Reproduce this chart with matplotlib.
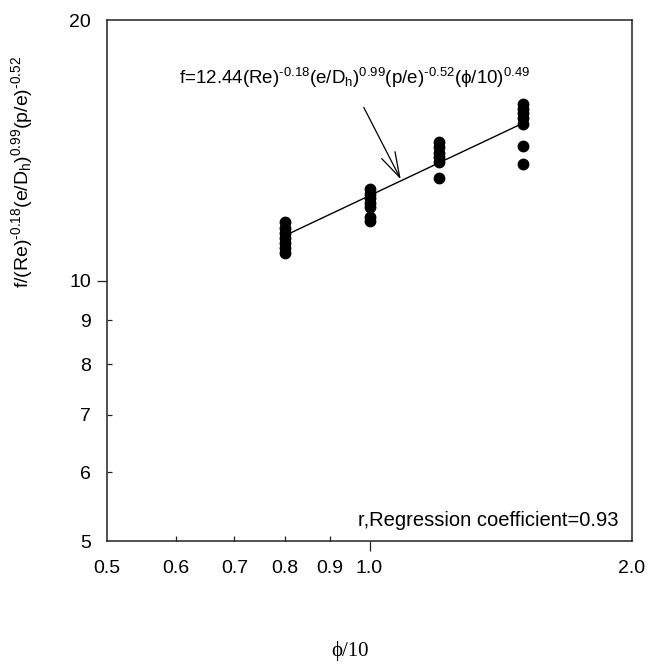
import matplotlib
matplotlib.use("Agg")
import matplotlib.pyplot as plt
from matplotlib.ticker import FixedLocator, FixedFormatter
import matplotlib.lines as mlines

# ---- data ----
x_groups = [0.8, 1.0, 1.2, 1.5]
y_groups = [
    [11.67, 11.5, 11.35, 11.2, 11.05, 10.9, 10.75],
    [12.75, 12.6, 12.45, 12.3, 12.15, 11.85, 11.7],
    [14.45, 14.25, 14.05, 13.9, 13.7, 13.15],
    [16.0, 15.8, 15.6, 15.4, 15.15, 14.3, 13.65],
]
line_x = [0.8, 1.5]
line_y = [11.27, 15.2]

x_ticks = [0.5, 0.6, 0.7, 0.8, 0.9, 1.0, 2.0]
x_ticklabels = ["0.5", "0.6", "0.7", "0.8", "0.9", "1.0", "2.0"]
x_minor_in = [0.6, 0.7, 0.8, 0.9]
y_ticks = [5, 6, 7, 8, 9, 10, 20]
y_ticklabels = ["5", "6", "7", "8", "9", "10", "20"]
y_minor_in = [6, 7, 8, 9]

HY = "\u2010"  # short hyphen as printed in the source
eq_text = ("f=12.44(Re)$^{" + HY + "0.18}$(e/D$_\\mathregular{h}$)$^{0.99}$"
           "(p/e)$^{" + HY + "0.52}$($\\phi$/10)$^{0.49}$")
ylabel_text = ("f/(Re)$^{" + HY + "0.18}$(e/D$_\\mathregular{h}$)$^{0.99}$"
               "(p/e)$^{" + HY + "0.52}$")
r_text = "r,Regression coefficient=0.93"

plt.rcParams['font.family'] = ['Liberation Sans', 'DejaVu Sans']
plt.rcParams['mathtext.fontset'] = 'custom'
plt.rcParams['mathtext.rm'] = 'Liberation Sans'
plt.rcParams['mathtext.it'] = 'Liberation Sans'
plt.rcParams['mathtext.sf'] = 'Liberation Sans'

fig = plt.figure(figsize=(6.49, 6.65), dpi=100)
W, H = 649, 665
left, right, top, bottom = 107, 632, 20, 541
ax = fig.add_axes([left / W, 1 - bottom / H, (right - left) / W, (bottom - top) / H])

ax.set_xscale('log')
ax.set_yscale('log')
ax.set_xlim(0.5, 2.0)
ax.set_ylim(5, 20)

for spine in ax.spines.values():
    spine.set_linewidth(1.1)
    spine.set_color('#222222')

# scatter
for xv, ys in zip(x_groups, y_groups):
    ax.plot([xv] * len(ys), ys, 'o', color='black', ms=7.5, mec='black', zorder=3)

# regression line
ax.plot(line_x, line_y, color='black', lw=1.0, zorder=2)

# ticks
ax.xaxis.set_major_locator(FixedLocator(x_ticks))
ax.xaxis.set_major_formatter(FixedFormatter(x_ticklabels))
ax.xaxis.set_minor_locator(FixedLocator([]))
ax.yaxis.set_major_locator(FixedLocator(y_ticks))
ax.yaxis.set_major_formatter(FixedFormatter(y_ticklabels))
ax.yaxis.set_minor_locator(FixedLocator([]))
ax.tick_params(axis='x', which='major', direction='out', length=7.5, width=0.9,
               labelsize=14, pad=6, color='#222222')
ax.tick_params(axis='y', which='major', direction='out', length=7.5, width=0.9,
               labelsize=14, pad=4, color='#222222')

for t, v in zip(ax.xaxis.get_major_ticks(), x_ticks):
    if v in x_minor_in:
        t.tick1line.set_marker(mlines.TICKUP)
        t.tick1line.set_markersize(3.5)
    elif v != 1.0:
        t.tick1line.set_markersize(0)
for t, v in zip(ax.yaxis.get_major_ticks(), y_ticks):
    if v in y_minor_in:
        t.tick1line.set_marker(mlines.TICKRIGHT)
        t.tick1line.set_markersize(3.5)
    elif v != 10:
        t.tick1line.set_markersize(0)

# annotation with arrow
ax.annotate("", xy=(1.086, 13.09), xytext=(0.985, 15.85),
            arrowprops=dict(arrowstyle='->, head_length=0.6, head_width=0.18',
                            lw=0.9, color='black',
                            mutation_scale=30, shrinkA=0, shrinkB=0))
ax.text(0.605, 16.85, eq_text, fontsize=13.5, ha='left', va='baseline')

ax.text(0.975, 0.022, r_text, transform=ax.transAxes, fontsize=14.5,
        ha='right', va='bottom')

fig.text(22 / W, 1 - 172 / H, ylabel_text, rotation=90, fontsize=14,
         ha='center', va='center')
fig.text(350 / W, 1 - 651 / H, "\u03d5/10", fontsize=15,
         family=['Liberation Serif', 'DejaVu Serif'], ha='center', va='center')

fig.savefig("out.png", dpi=100)
